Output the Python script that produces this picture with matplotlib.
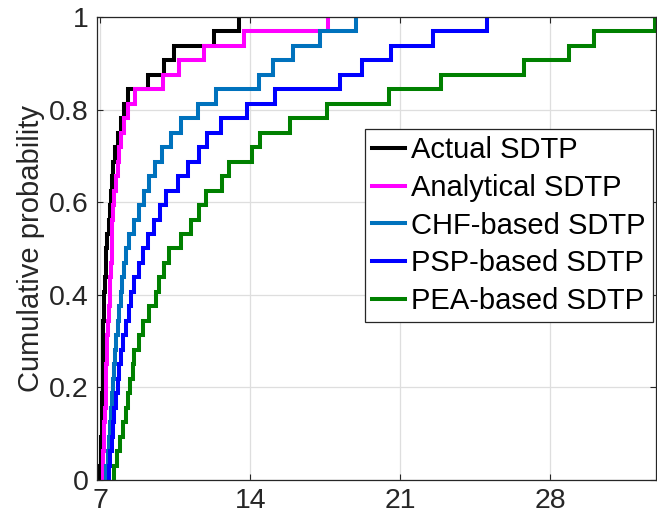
import numpy as np
import matplotlib
matplotlib.use("Agg")
import matplotlib.pyplot as plt

# --- Data: sorted samples (32 samples each) ---
actual = [7.00, 7.02, 7.04, 7.06, 7.07, 7.08, 7.10, 7.11, 7.12, 7.13, 7.14, 7.16,
          7.18, 7.20, 7.24, 7.28, 7.33, 7.38, 7.44, 7.48, 7.54, 7.58, 7.68, 7.81,
          7.97, 8.12, 8.27, 9.21, 9.99, 10.45, 12.30, 13.47]
analytical = [7.10, 7.13, 7.16, 7.19, 7.21, 7.24, 7.26, 7.28, 7.30, 7.33, 7.35, 7.39,
              7.43, 7.47, 7.50, 7.52, 7.54, 7.56, 7.60, 7.65, 7.73, 7.81, 7.89, 7.97,
              8.12, 8.30, 8.62, 9.92, 10.67, 11.82, 13.72, 17.65]
chf = [7.27, 7.34, 7.39, 7.45, 7.50, 7.55, 7.61, 7.65, 7.70, 7.73, 7.81, 7.85,
       7.97, 8.01, 8.12, 8.20, 8.35, 8.59, 8.82, 9.05, 9.25, 9.55, 9.87, 10.30,
       10.77, 11.54, 12.38, 14.42, 15.07, 16.00, 17.27, 18.94]
psp = [7.39, 7.45, 7.52, 7.57, 7.65, 7.73, 7.81, 7.89, 7.97, 8.04, 8.20, 8.35,
       8.43, 8.59, 8.82, 8.97, 9.23, 9.50, 9.78, 10.06, 10.61, 11.07, 11.59, 11.97,
       12.63, 13.84, 15.15, 18.20, 19.20, 20.58, 22.53, 25.05]
pea = [7.62, 7.78, 7.90, 8.05, 8.18, 8.30, 8.40, 8.50, 8.59, 8.82, 8.97, 9.25,
       9.60, 9.75, 9.99, 10.22, 10.77, 11.23, 11.62, 11.93, 12.68, 13.02, 14.08, 14.44,
       15.85, 17.56, 20.46, 22.90, 26.80, 28.88, 30.05, 32.88]

labels = ["Actual SDTP", "Analytical SDTP", "CHF-based SDTP", "PSP-based SDTP", "PEA-based SDTP"]
colors = ["#000000", "#FF00FF", "#0072BD", "#0000FF", "#008000"]
xticks = [7, 14, 21, 28]
yticks = [0, 0.2, 0.4, 0.6, 0.8, 1]
yticklabels = ["0", "0.2", "0.4", "0.6", "0.8", "1"]

plt.rcParams["font.family"] = ["Liberation Sans", "DejaVu Sans"]
AX_COLOR = "#262626"

fig = plt.figure(figsize=(6.57, 5.22), dpi=100)
ax = fig.add_axes([0.1476, 0.0805, 0.851, 0.887])

for data, lab, col in zip([actual, analytical, chf, psp, pea], labels, colors):
    s = np.sort(np.asarray(data))
    n = len(s)
    x = np.concatenate([[s[0]], s])
    y = np.concatenate([[0.0], np.arange(1, n + 1) / n])
    ax.step(x, y, where="post", color=col, lw=2.9, label=lab, solid_joinstyle="miter")

ax.set_xlim(6.84, 32.95)
ax.set_ylim(0, 1)
ax.set_xticks(xticks)
ax.set_yticks(yticks)
ax.set_yticklabels(yticklabels)
ax.grid(True, color="#DEDEDE", lw=0.9)
ax.set_axisbelow(True)
ax.tick_params(direction="in", length=4.5, width=0.8, colors=AX_COLOR,
               labelsize=20.5, top=True, right=True, pad=6)
for sp in ax.spines.values():
    sp.set_color(AX_COLOR)
    sp.set_linewidth(0.9)
ax.set_ylabel("Cumulative probability", fontsize=21, color=AX_COLOR, labelpad=3)

leg = ax.legend(loc="upper right", bbox_to_anchor=(0.9939, 0.7529),
                bbox_transform=fig.transFigure, borderaxespad=0, fontsize=21,
                frameon=True, fancybox=False, edgecolor=AX_COLOR, framealpha=1,
                handlelength=1.13, handletextpad=0.2, borderpad=0.25, labelspacing=0.33)
leg.get_frame().set_linewidth(0.9)

fig.savefig("out.png", dpi=100)
